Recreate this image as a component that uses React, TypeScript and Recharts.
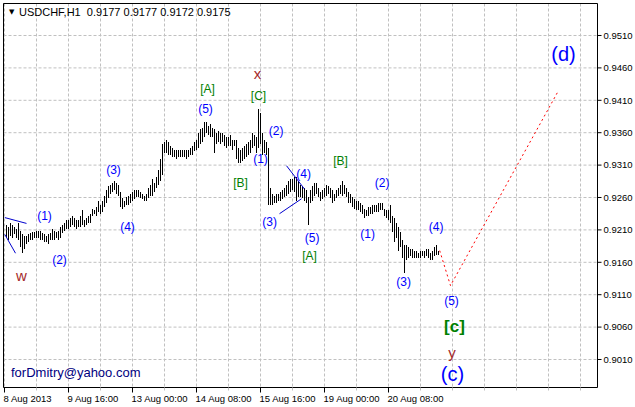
import React from 'react';
import {
  ComposedChart,
  Bar,
  Line,
  Scatter,
  XAxis,
  YAxis,
  CartesianGrid,
  ReferenceArea,
} from 'recharts';

// USDCHF H1 bars (index 1..217)
const highs = [
  0.9218, 0.9215, 0.922, 0.9217, 0.9214, 0.9212, 0.9221, 0.9209, 0.9203, 0.9201, 0.9201, 0.9203, 0.9205, 0.9206, 0.9206,
  0.9208, 0.9208, 0.9209, 0.9205, 0.9203, 0.9201, 0.9203, 0.9205, 0.9212, 0.9209, 0.9206, 0.9209, 0.9214, 0.9217, 0.9221, 0.9225,
  0.9226, 0.9229, 0.9231, 0.9228, 0.9226, 0.9225, 0.9231, 0.924, 0.9226, 0.9228, 0.9231, 0.9234, 0.9243, 0.9241, 0.9245, 0.9254,
  0.9249, 0.9255, 0.9263, 0.9271, 0.9277, 0.928, 0.9283, 0.9286, 0.9282, 0.9279, 0.9268, 0.9259, 0.9255, 0.926, 0.9263, 0.9265,
  0.9268, 0.9271, 0.9272, 0.9271, 0.9268, 0.9265, 0.9263, 0.9266, 0.9274, 0.9279, 0.9289, 0.9283, 0.9292, 0.9302, 0.932, 0.9343,
  0.9346, 0.9349, 0.9345, 0.934, 0.9337, 0.9334, 0.9333, 0.9333, 0.9334, 0.9334, 0.9333, 0.9334, 0.9333, 0.9336, 0.9339, 0.9346,
  0.9348, 0.9359, 0.9366, 0.9368, 0.9376, 0.9376, 0.937, 0.9373, 0.9368, 0.9366, 0.936, 0.9362, 0.9359, 0.9359, 0.9356, 0.9353,
  0.9353, 0.9356, 0.9349, 0.9349, 0.9348, 0.9336, 0.9333, 0.9336, 0.9339, 0.9342, 0.9345, 0.9348, 0.9359, 0.9357, 0.9353, 0.9396,
  0.9391, 0.9359, 0.9348, 0.9345, 0.9337, 0.9274, 0.9266, 0.9263, 0.9266, 0.9266, 0.9269, 0.9272, 0.9275, 0.928, 0.9285, 0.9288,
  0.9289, 0.9291, 0.9291, 0.9285, 0.928, 0.9277, 0.9274, 0.9271, 0.926, 0.9271, 0.9277, 0.9282, 0.9282, 0.9274, 0.9268, 0.9271,
  0.9274, 0.9279, 0.9277, 0.9274, 0.9271, 0.9266, 0.9271, 0.9275, 0.9279, 0.9286, 0.9279, 0.9275, 0.9268, 0.9265, 0.926, 0.9257,
  0.9255, 0.9254, 0.9252, 0.9249, 0.9243, 0.924, 0.9245, 0.9246, 0.9248, 0.9248, 0.9249, 0.9251, 0.9251, 0.9252, 0.9243, 0.924,
  0.924, 0.9248, 0.9232, 0.9228, 0.9221, 0.9214, 0.9206, 0.9194, 0.9186, 0.9186, 0.9183, 0.9181, 0.918, 0.9178, 0.9177, 0.9175,
  0.9178, 0.9177, 0.9178, 0.9181, 0.918, 0.9175, 0.9178, 0.9184, 0.9186, 0.9177,
];

const lows = [
  0.9197, 0.9194, 0.9201, 0.9198, 0.9203, 0.9198, 0.9194, 0.9183, 0.9174, 0.9181, 0.9189, 0.9191, 0.9194, 0.9195, 0.9197,
  0.9197, 0.9198, 0.9194, 0.9194, 0.9191, 0.9191, 0.9189, 0.9194, 0.9194, 0.9195, 0.9197, 0.9194, 0.9198, 0.9205, 0.9209, 0.9212,
  0.9212, 0.9215, 0.9217, 0.9215, 0.9212, 0.9214, 0.9215, 0.9217, 0.9215, 0.9217, 0.922, 0.9221, 0.9231, 0.9234, 0.9232, 0.9237,
  0.9234, 0.9237, 0.9245, 0.9251, 0.9259, 0.9265, 0.9268, 0.9271, 0.9266, 0.9262, 0.9245, 0.9243, 0.9245, 0.9248, 0.9249, 0.9252,
  0.9254, 0.9257, 0.926, 0.926, 0.9259, 0.9257, 0.9255, 0.9255, 0.9259, 0.9262, 0.9263, 0.9268, 0.9274, 0.9279, 0.9286, 0.9294,
  0.9328, 0.9329, 0.9326, 0.9325, 0.9323, 0.9322, 0.932, 0.9322, 0.9322, 0.9323, 0.9322, 0.932, 0.9322, 0.9325, 0.9326, 0.9331,
  0.9333, 0.9337, 0.9343, 0.9346, 0.9353, 0.9359, 0.9356, 0.9353, 0.9353, 0.9329, 0.9343, 0.9345, 0.9343, 0.9346, 0.934, 0.9337,
  0.9339, 0.934, 0.9334, 0.9339, 0.932, 0.9313, 0.9314, 0.9317, 0.932, 0.9323, 0.9325, 0.9329, 0.9336, 0.9339, 0.9328, 0.9337,
  0.9343, 0.9325, 0.9329, 0.9325, 0.9248, 0.9248, 0.9248, 0.9251, 0.9252, 0.9254, 0.9255, 0.9257, 0.926, 0.9263, 0.9266, 0.9269,
  0.9271, 0.9268, 0.9255, 0.926, 0.926, 0.9259, 0.9255, 0.9252, 0.9217, 0.9251, 0.9255, 0.9262, 0.9266, 0.926, 0.9255, 0.9257,
  0.926, 0.9262, 0.9265, 0.9259, 0.9251, 0.9254, 0.9259, 0.9263, 0.9265, 0.9263, 0.9266, 0.926, 0.9252, 0.9251, 0.9246, 0.9243,
  0.9241, 0.924, 0.9238, 0.9235, 0.9228, 0.9232, 0.9232, 0.9234, 0.9235, 0.9237, 0.9237, 0.9238, 0.924, 0.924, 0.9232, 0.9229,
  0.9225, 0.9221, 0.9206, 0.9191, 0.9197, 0.9178, 0.9183, 0.9166, 0.9144, 0.9163, 0.9167, 0.9169, 0.9167, 0.9166, 0.9167, 0.9166,
  0.9166, 0.9169, 0.9167, 0.9169, 0.9166, 0.9163, 0.9164, 0.9169, 0.9172, 0.9172,
];

const priceTicks = [0.901, 0.906, 0.911, 0.916, 0.921, 0.926, 0.931, 0.936, 0.941, 0.946, 0.951];
const gridBars = [0, 16, 32, 48, 64, 80, 96, 112, 128, 144, 160, 176, 192, 208, 224, 240, 256, 272, 288];
const timeBars = [0, 32, 64, 96, 128, 160, 192];
const timeLabels = ['8 Aug 2013', '9 Aug 16:00', '13 Aug 00:00', '14 Aug 08:00', '15 Aug 16:00', '19 Aug 00:00', '20 Aug 08:00'];

// wave labels (bar index, price)
const blueWaves = [
  { i: 20, p: 0.9232, t: '(1)' },
  { i: 27.5, p: 0.9163, t: '(2)' },
  { i: 54.5, p: 0.9302, t: '(3)' },
  { i: 61.5, p: 0.9215, t: '(4)' },
  { i: 100.5, p: 0.9396, t: '(5)' },
  { i: 128, p: 0.9319, t: '(1)' },
  { i: 135.8, p: 0.9362, t: '(2)' },
  { i: 132.6, p: 0.9222, t: '(3)' },
  { i: 149.6, p: 0.9296, t: '(4)' },
  { i: 153.8, p: 0.9198, t: '(5)' },
  { i: 181.6, p: 0.9203, t: '(1)' },
  { i: 188.8, p: 0.9283, t: '(2)' },
  { i: 199.6, p: 0.9129, t: '(3)' },
  { i: 215.8, p: 0.9214, t: '(4)' },
  { i: 223.5, p: 0.9101, t: '(5)' },
];
const greenWaves = [
  { i: 101.5, p: 0.9427, t: '[A]' },
  { i: 118, p: 0.9283, t: '[B]' },
  { i: 127, p: 0.9416, t: '[C]' },
  { i: 152.5, p: 0.9169, t: '[A]' },
  { i: 168, p: 0.9316, t: '[B]' },
];
const greenBigWaves = [{ i: 225, p: 0.9061, t: '[c]' }];
const brownWaves = [
  { i: 8.5, p: 0.914, t: 'w' },
  { i: 126.5, p: 0.9451, t: 'x' },
  { i: 223.8, p: 0.9021, t: 'y' },
];
const blueBigWaves = [
  { i: 224, p: 0.8987, t: '(c)' },
  { i: 279.5, p: 0.9481, t: '(d)' },
];

// forecast path and trend lines
const projection = [
  { i: 217.6, p: 0.9178 },
  { i: 223, p: 0.9124 },
  { i: 277, p: 0.9425 },
];
const trendA = [{ i: 0.15, p: 0.9229 }, { i: 11, p: 0.922 }];
const trendB = [{ i: 0.15, p: 0.9203 }, { i: 5.5, p: 0.9174 }];
const trendC = [{ i: 141, p: 0.9309 }, { i: 150, p: 0.9273 }];
const trendD = [{ i: 137.5, p: 0.9235 }, { i: 148.5, p: 0.9258 }];

const bars = highs.map((h, k) => ({ i: k + 1, range: [lows[k], h] }));

const X_MIN = -0.5;
const X_MAX = 296.5;
const Y_MIN = 0.896679;
const Y_MAX = 0.955938;
const FONT = '"Liberation Sans", Arial, sans-serif';

const Stick = (props: any) => {
  const { x, y, width, height } = props;
  if (x == null || y == null) return null;
  const cx = Math.floor(x + width / 2);
  const top = Math.round(Math.min(y, y + height));
  const bot = Math.round(Math.max(y, y + height));
  return <rect x={cx} y={top} width={1} height={Math.max(1, bot - top)} fill="#000" />;
};

const makeLabel = (color: string, size: number, weight: string) => (props: any) => {
  const { cx, cy, payload } = props;
  return (
    <text
      x={cx}
      y={cy}
      textAnchor="middle"
      dominantBaseline="central"
      fill={color}
      fontSize={size}
      fontWeight={weight}
      fontFamily={FONT}
    >
      {payload.t}
    </text>
  );
};

const XTick = (props: any) => {
  const { x, y, payload } = props;
  const k = timeBars.indexOf(payload.value);
  if (k < 0) {
    return <line x1={x} x2={x} y1={y} y2={y + 3} stroke="#c0c0c0" />;
  }
  return (
    <g>
      <line x1={x} x2={x} y1={y} y2={y + 5} stroke="#000" />
      <text x={x - 1} y={y + 14} fontSize={9.5} fontFamily={FONT} fill="#000">
        {timeLabels[k]}
      </text>
    </g>
  );
};

export default function App() {
  return (
    <div style={{ position: 'absolute', left: 0, top: 0, width: 635, height: 407, background: '#fff' }}>
      <ComposedChart
        width={635}
        height={407}
        data={bars}
        margin={{ top: 3.5, right: 0, bottom: 0, left: 3.5 }}
      >
        <CartesianGrid stroke="#c0c0c0" strokeDasharray="3 2" />
        <XAxis
          dataKey="i"
          type="number"
          domain={[X_MIN, X_MAX]}
          allowDataOverflow
          ticks={gridBars}
          interval={0}
          height={19.5}
          axisLine={false}
          tickLine={false}
          tickSize={0}
          tickMargin={0}
          tick={<XTick />}
        />
        <YAxis
          orientation="right"
          type="number"
          domain={[Y_MIN, Y_MAX]}
          allowDataOverflow
          ticks={priceTicks}
          interval={0}
          width={37.5}
          axisLine={false}
          tickSize={4}
          tickMargin={2}
          tickLine={{ stroke: '#000' }}
          tickFormatter={(v: number) => v.toFixed(4)}
          tick={{ fontSize: 9.5, fontFamily: FONT, fill: '#000' }}
        />
        <Bar dataKey="range" barSize={1} shape={<Stick />} isAnimationActive={false} />
        <Line data={trendA} dataKey="p" stroke="#0000cd" dot={false} isAnimationActive={false} />
        <Line data={trendB} dataKey="p" stroke="#0000cd" dot={false} isAnimationActive={false} />
        <Line data={trendC} dataKey="p" stroke="#0000cd" dot={false} isAnimationActive={false} />
        <Line data={trendD} dataKey="p" stroke="#0000cd" dot={false} isAnimationActive={false} />
        <Line
          data={projection}
          dataKey="p"
          stroke="#ff0000"
          strokeDasharray="2 3"
          dot={false}
          isAnimationActive={false}
        />
        <Scatter data={blueWaves} dataKey="p" shape={makeLabel('#0000ff', 12, 'normal')} isAnimationActive={false} />
        <Scatter data={greenWaves} dataKey="p" shape={makeLabel('#008000', 12, 'normal')} isAnimationActive={false} />
        <Scatter data={greenBigWaves} dataKey="p" shape={makeLabel('#008000', 17, 'bold')} isAnimationActive={false} />
        <Scatter data={brownWaves} dataKey="p" shape={makeLabel('#a52a2a', 15, 'normal')} isAnimationActive={false} />
        <Scatter data={blueBigWaves} dataKey="p" shape={makeLabel('#0000ff', 20, 'normal')} isAnimationActive={false} />
        <ReferenceArea
          x1={X_MIN}
          x2={X_MAX}
          y1={Y_MIN}
          y2={Y_MAX}
          stroke="#000"
          strokeOpacity={1}
          fill="none"
          fillOpacity={0}
        />
      </ComposedChart>
      <div
        style={{
          position: 'absolute',
          left: 9,
          top: 6,
          fontSize: 7,
          lineHeight: '12px',
          fontFamily: '"DejaVu Sans", sans-serif',
          color: '#000',
        }}
      >
        ▼
      </div>
      <div
        style={{
          position: 'absolute',
          left: 19,
          top: 6,
          fontFamily: FONT,
          fontSize: 11,
          lineHeight: '12px',
          whiteSpace: 'pre',
          color: '#000',
        }}
      >
        {'USDCHF,H1  0.9177 0.9177 0.9172 0.9175'}
      </div>
      <div
        style={{
          position: 'absolute',
          left: 11,
          top: 366,
          fontFamily: FONT,
          fontSize: 13,
          lineHeight: '14px',
          color: '#000080',
        }}
      >
        forDmitry@yahoo.com
      </div>
    </div>
  );
}
